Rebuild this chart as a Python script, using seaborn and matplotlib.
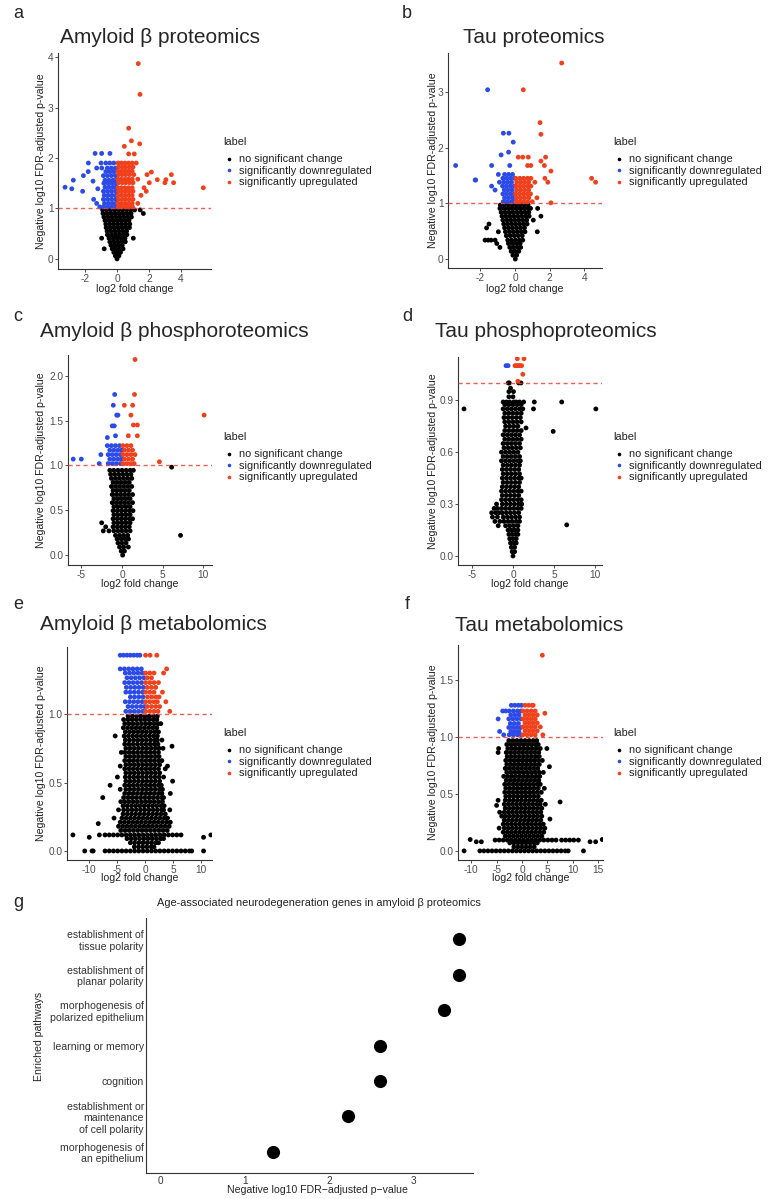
import pandas as pd
import matplotlib
matplotlib.use("Agg")
import matplotlib.pyplot as plt
from matplotlib.lines import Line2D
import seaborn as sns

sns.set_theme(style="ticks")
plt.rcParams["font.family"] = ["Liberation Sans", "DejaVu Sans"]
plt.rcParams["axes.unicode_minus"] = False

W, H = 769, 1199
LABELS = ["no significant change", "significantly downregulated", "significantly upregulated"]
PALETTE = ["#000000", "#2b4ae8", "#f0401c"]

# ---- data: each row is (y, [x values]) ----
# a. Amyloid beta proteomics
a_none = [
    (0.0, [0.0]), (0.06, [-0.1, 0.12]), (0.13, [-0.2, 0.02, 0.22]),
    (0.2, [-0.8, -0.3, -0.08, 0.15, 0.38]), (0.27, [-0.38, -0.13, 0.1, 0.33]),
    (0.34, [-0.45, -0.2, 0.05, 0.3, 0.52]), (0.41, [-0.96, -0.5, -0.25, 0.0, 0.25, 0.5, 1.02]),
    (0.48, [-0.6, -0.35, -0.1, 0.15, 0.4, 0.62]), (0.55, [-0.62, -0.38, -0.13, 0.12, 0.37, 0.6]),
    (0.62, [-0.68, -0.43, -0.18, 0.07, 0.32, 0.57, 0.78]), (0.69, [-0.7, -0.45, -0.2, 0.05, 0.3, 0.55, 0.8]),
    (0.76, [-0.75, -0.5, -0.25, 0.0, 0.25, 0.5, 0.75]),
    (0.83, [-0.82, -0.57, -0.32, -0.07, 0.18, 0.43, 0.68, 0.9]),
    (0.9, [-0.88, -0.62, -0.37, -0.12, 0.13, 0.38, 0.63, 0.88, 1.65]),
    (0.97, [-0.9, -0.65, -0.4, -0.15, 0.1, 0.35, 0.6, 0.85, 1.1, 1.45]),
]
a_down = [
    (1.03, [-1.08, -0.85, -0.6, -0.35, -0.1]), (1.1, [-1.27, -0.78, -0.53, -0.28, -0.05]),
    (1.18, [-1.46, -0.85, -0.6, -0.35, -0.1]), (1.26, [-0.8, -0.55, -0.3, -0.06]),
    (1.34, [-2.15, -0.85, -0.6, -0.35, -0.1]), (1.39, [-1.2, -2.83]), (1.42, [-3.25, -0.75, -0.5, -0.25, -0.05]),
    (1.5, [-0.82, -0.57, -0.32, -0.08]), (1.54, [-1.5]), (1.56, [-2.73, -0.75, -0.5, -0.25, -0.05]),
    (1.65, [-2.1, -0.85, -0.6, -0.35, -0.1]), (1.73, [-1.8, -0.7, -0.45, -0.2]),
    (1.8, [-1.27, -0.95, -0.6, -0.35, -0.1]), (1.9, [-1.79, -1.0, -0.7, -0.45, -0.2]),
    (2.09, [-1.37, -0.96, -0.44]),
]
a_up = [
    (1.03, [0.08, 0.3, 0.52, 0.75, 0.97]), (1.1, [0.05, 0.27, 0.5, 0.72, 0.95, 1.3]),
    (1.18, [0.1, 0.33, 0.55, 0.78, 1.0]), (1.26, [0.06, 0.28, 0.5, 0.73, 0.95, 1.5]),
    (1.34, [0.1, 0.32, 0.55, 0.77, 1.0, 1.83]), (1.41, [0.06, 0.28, 0.5, 0.72, 0.95, 1.69, 5.4]),
    (1.51, [0.1, 0.33, 0.55, 0.78, 1.0, 2.02, 3.0, 3.54]), (1.57, [2.52, 3.06]),
    (1.58, [0.05, 0.27, 0.5, 0.72, 0.95, 1.3]), (1.67, [0.1, 0.32, 0.55, 0.78, 1.05, 1.88, 3.4]),
    (1.72, [2.15]), (1.74, [0.06, 0.28, 0.5, 0.72, 0.95]), (1.82, [0.1, 0.33, 0.55, 0.78, 1.0]),
    (1.9, [0.06, 0.28, 0.5, 0.72, 0.95, 1.2]), (2.08, [0.73, 1.08]), (2.23, [0.46]),
    (2.28, [1.42]), (2.34, [0.9]), (2.59, [0.73]), (3.26, [1.44]), (3.87, [1.33]),
]

# b. Tau proteomics
b_none = [
    (0.0, [0.02]), (0.07, [-0.12, 0.1]), (0.14, [-0.22, 0.0, 0.22]),
    (0.21, [-0.87, -0.3, -0.08, 0.15, 0.33]), (0.28, [-1.05, -0.38, -0.15, 0.08, 0.3]),
    (0.34, [-1.73, -1.55, -1.38, -1.15, -0.42, -0.2, 0.03, 0.25, 0.45]),
    (0.42, [-0.5, -0.27, -0.04, 0.19, 0.42]),
    (0.49, [-0.96, -0.55, -0.32, -0.09, 0.14, 0.37, 0.58, 1.29]),
    (0.56, [-1.64, -0.6, -0.37, -0.14, 0.09, 0.32, 0.55]),
    (0.63, [-1.5, -0.65, -0.42, -0.19, 0.04, 0.27, 0.5, 0.7]),
    (0.7, [-0.7, -0.47, -0.24, -0.01, 0.22, 0.45, 0.68, 1.06]),
    (0.77, [-0.75, -0.52, -0.29, -0.06, 0.17, 0.4, 0.63, 0.82, 1.5]),
    (0.84, [-0.8, -0.57, -0.34, -0.11, 0.12, 0.35, 0.58, 0.8]),
    (0.91, [-0.87, -0.63, -0.4, -0.17, 0.06, 0.29, 0.52, 0.75, 0.9, 1.31]),
    (0.97, [-0.85, -0.62, -0.39, -0.16, 0.07, 0.3, 0.53, 0.76]),
]
b_down = [
    (1.03, [-0.68, -0.45, -0.22, -0.03]), (1.1, [-0.6, -0.37, -0.14]),
    (1.17, [-0.7, -0.48, -0.25, -0.04]), (1.24, [-1.15, -0.62, -0.4, -0.17]),
    (1.31, [-1.35, -0.72, -0.5, -0.27, -0.05]), (1.38, [-0.9, -0.65, -0.42, -0.2]),
    (1.42, [-2.27, -2.3]), (1.45, [-0.7, -0.48, -0.25, -0.03]), (1.52, [-0.96, -0.6, -0.37, -0.14]),
    (1.68, [-3.43, -1.35, -0.3]), (1.87, [-0.8]), (1.92, [-0.37]), (2.1, [-0.1]),
    (2.26, [-0.67, -0.35]), (3.04, [-1.58]),
]
b_up = [
    (1.01, [2.08]), (1.03, [0.05, 0.28, 0.5, 0.73, 1.0]), (1.1, [0.1, 0.33, 0.56, 0.8, 1.27]),
    (1.17, [0.03, 0.26, 0.49, 0.72, 0.9]), (1.24, [0.1, 0.33, 0.56, 0.79]),
    (1.31, [0.05, 0.28, 0.5, 0.73, 0.92]), (1.38, [0.1, 0.33, 0.56, 0.79, 1.15, 1.9, 4.66]),
    (1.45, [0.05, 0.28, 0.5, 0.73, 0.92, 1.73, 4.43]), (1.58, [2.08]), (1.68, [0.73, 0.92, 1.7]),
    (1.76, [1.5]), (1.83, [0.19, 0.45, 0.77, 1.77]), (2.24, [1.5]), (2.45, [1.45]),
    (3.04, [0.48]), (3.52, [2.7]),
]

# c. Amyloid beta phosphoproteomics
c_none = [
    (0.0, [0.08]), (0.045, [-0.1, 0.3]), (0.09, [-0.3, 0.2, 0.78]), (0.135, [-0.5, 0.0, 0.5]),
    (0.18, [-0.6, -0.1, 0.4, 0.8]), (0.22, [-0.8, -0.3, 0.2, 0.7, 7.2]),
    (0.27, [-2.3, -1.6, -1.0, -0.5, 0.0, 0.5, 1.0]), (0.315, [-2.0, -1.1, -0.6, -0.1, 0.4, 0.9]),
    (0.36, [-2.5, -1.0, -0.5, 0.0, 0.5, 1.0]), (0.405, [-1.1, -0.6, -0.1, 0.4, 0.9, 1.3]),
    (0.45, [-1.0, -0.5, 0.0, 0.5, 1.0]), (0.495, [-1.1, -0.6, -0.1, 0.4, 0.9, 1.35]),
    (0.54, [-1.0, -0.5, 0.0, 0.5, 1.0]), (0.585, [-1.2, -0.7, -0.2, 0.3, 0.8, 1.3]),
    (0.63, [-1.0, -0.5, 0.0, 0.5, 1.0]), (0.675, [-1.2, -0.7, -0.2, 0.3, 0.8, 1.3]),
    (0.72, [-1.1, -0.6, -0.1, 0.4, 0.9]), (0.765, [-1.3, -0.8, -0.3, 0.2, 0.7, 1.2]),
    (0.81, [-1.1, -0.6, -0.1, 0.4, 0.9]), (0.855, [-1.3, -0.8, -0.3, 0.2, 0.7, 1.2]),
    (0.9, [-1.4, -0.9, -0.4, 0.1, 0.6, 1.1]), (0.945, [-1.5, -1.0, -0.5, 0.0, 0.5, 1.0, 1.4]),
    (0.98, [6.1]),
]
c_down = [
    (1.02, [-2.8, -1.7, -1.2, -0.7, -0.2]), (1.07, [-6.0, -5.0, -1.5, -1.0, -0.5, -0.05]),
    (1.12, [-2.6, -1.7, -1.2, -0.7, -0.2]), (1.17, [-1.5, -1.0, -0.5, -0.05]),
    (1.22, [-1.8, -1.3, -0.8, -0.3]), (1.31, [-1.8]), (1.33, [-0.8]), (1.44, [-1.2, -0.95]),
    (1.56, [-0.65, -0.5]), (1.67, [-1.07]), (1.79, [-0.9]),
]
c_up = [
    (1.02, [0.1, 0.6, 1.1, 1.5]), (1.04, [4.6]), (1.07, [0.3, 0.8, 1.3]), (1.12, [0.1, 0.6, 1.1, 1.6]),
    (1.17, [0.3, 0.8, 1.3]), (1.22, [0.1, 0.6, 1.1]), (1.33, [0.78, 1.89]), (1.45, [1.4, 1.89]),
    (1.56, [1.1, 10.1]), (1.67, [0.29, 1.31]), (1.79, [1.54]), (2.18, [1.6]),
]

# d. Tau phosphoproteomics
d_none = [
    (0.0, [0.0]), (0.025, [-0.1, 0.2]), (0.05, [-0.2, 0.2]), (0.075, [-0.3, 0.1, 0.4]),
    (0.1, [-0.4, 0.0, 0.4]), (0.125, [-0.5, -0.1, 0.3, 0.6]), (0.15, [-0.6, -0.2, 0.2, 0.6]),
    (0.175, [-1.8, -0.9, -0.4, 0.1, 0.6]), (0.18, [6.55]),
    (0.2, [-2.2, -1.6, -1.1, -0.6, -0.1, 0.4, 0.8]),
    (0.225, [-2.5, -1.9, -1.2, -0.7, -0.2, 0.3, 0.8]),
    (0.25, [-2.6, -2.1, -1.7, -1.3, -0.8, -0.3, 0.2, 0.7]),
    (0.275, [-2.3, -1.9, -1.4, -0.9, -0.4, 0.1, 0.6, 1.0]),
    (0.3, [-2.0, -1.3, -0.8, -0.3, 0.2, 0.7, 1.06]), (0.325, [-1.4, -0.9, -0.4, 0.1, 0.6, 1.0]),
    (0.35, [-1.3, -0.8, -0.3, 0.2, 0.7]), (0.375, [-1.4, -0.9, -0.4, 0.1, 0.6, 1.0]),
    (0.4, [-1.3, -0.8, -0.3, 0.2, 0.7]), (0.425, [-1.2, -0.7, -0.2, 0.3, 0.8]),
    (0.45, [-1.3, -0.8, -0.3, 0.2, 0.7, 1.0]), (0.475, [-1.2, -0.7, -0.2, 0.3, 0.8]),
    (0.5, [-1.3, -0.8, -0.3, 0.2, 0.7]), (0.525, [-1.2, -0.7, -0.2, 0.3, 0.8]),
    (0.55, [-1.4, -0.9, -0.4, 0.1, 0.6, 0.9]), (0.575, [-1.2, -0.7, -0.2, 0.3, 0.8]),
    (0.6, [-1.4, -0.9, -0.4, 0.1, 0.6]), (0.625, [-1.1, -0.6, -0.1, 0.4, 0.9]),
    (0.65, [-1.2, -0.7, -0.2, 0.3, 0.8]), (0.675, [-1.0, -0.5, 0.0, 0.5, 1.0]),
    (0.7, [-1.2, -0.7, -0.2, 0.3, 0.8]), (0.72, [4.9]), (0.725, [-1.0, -0.5, 0.0, 0.5, 1.0]),
    (0.74, [1.59]), (0.75, [-0.9, -0.4, 0.1, 0.6]), (0.775, [-1.0, -0.5, 0.0, 0.5, 1.0]),
    (0.8, [-1.1, -0.6, -0.1, 0.4, 0.9]), (0.825, [-1.0, -0.5, 0.0, 0.5, 1.0]),
    (0.85, [-5.97, -1.2, -0.7, -0.2, 0.3, 0.8, 1.2, 2.5, 10.1]), (0.875, [-1.0, -0.5, 0.0, 0.5, 1.0]),
    (0.89, [-1.2, -0.8, -0.4, 0.1, 0.4, 0.8, 1.3, 2.6, 5.94]), (0.92, [-0.5, 0.0]),
    (0.95, [-0.5, 0.06]), (0.97, [-0.3]), (1.0, [-0.57, -0.45, 0.7, 0.98]),
]
d_down = [(1.1, [-0.85, -0.6])]
d_up = [(1.01, [0.6]), (1.05, [1.2]), (1.1, [0.25, 0.45, 0.65, 0.85, 1.05]), (1.14, [0.53, 1.34])]

# e. Amyloid beta metabolomics
e_none = [
    (0.0, [-10.7, -9.4, -9.2, -7.1, -6.35, -5.6, -4.85, -4.1, -3.35, -2.6, -1.85, -1.1, -0.35, 0.4,
           1.15, 1.9, 2.65, 3.4, 4.15, 4.9, 5.65, 6.4, 7.15, 7.9, 8.3, 10.4]),
    (0.03, [-1.9, -1.15, -0.4, 0.35, 1.1, 1.6]),
    (0.06, [-2.6, -1.85, -1.1, -0.35, 0.4, 1.15, 1.9, 2.4]),
    (0.09, [-3.2, -2.45, -1.7, -0.95, -0.2, 0.55, 1.3, 2.05, 2.8, 3.3]),
    (0.1, [-9.9, 10.4]),
    (0.117, [-12.8, -8.1, -7.1, -6.35, -5.6, -4.85, -4.1, -3.35, -2.6, -1.85, -1.1, -0.35, 0.4, 1.15,
             1.9, 2.65, 3.4, 4.15, 4.9, 5.65, 6.4, 11.7]),
    (0.15, [-4.3, -3.55, -2.8, -2.05, -1.3, -0.55, 0.2, 0.95, 1.7, 2.45, 3.2, 3.95]),
    (0.18, [-4.7, -3.95, -3.2, -2.45, -1.7, -0.95, -0.2, 0.55, 1.3, 2.05, 2.8, 3.55, 4.3]),
    (0.2, [-8.3]),
    (0.21, [-4.4, -3.65, -2.9, -2.15, -1.4, -0.65, 0.1, 0.85, 1.6, 2.35, 3.1, 3.85, 4.5]),
    (0.24, [-5.5, -4.1, -3.35, -2.6, -1.85, -1.1, -0.35, 0.4, 1.15, 1.9, 2.65, 3.4, 4.0]),
    (0.27, [-3.9, -3.15, -2.4, -1.65, -0.9, -0.15, 0.6, 1.35, 2.1, 2.85, 3.6]),
    (0.3, [-4.7, -3.8, -3.05, -2.3, -1.55, -0.8, -0.05, 0.7, 1.45, 2.2, 2.95, 3.3, 4.4]),
    (0.33, [-3.9, -3.15, -2.4, -1.65, -0.9, -0.15, 0.6, 1.35, 2.1, 2.85, 3.4]),
    (0.36, [-4.3, -3.6, -2.85, -2.1, -1.35, -0.6, 0.15, 0.9, 1.65, 2.4, 3.1]),
    (0.39, [-7.5, -3.8, -3.05, -2.3, -1.55, -0.8, -0.05, 0.7, 1.45, 2.2, 2.95, 3.3]),
    (0.42, [-3.6, -2.85, -2.1, -1.35, -0.6, 0.15, 0.9, 1.65, 2.4, 3.0, 4.5]),
    (0.45, [-4.4, -3.4, -2.65, -1.9, -1.15, -0.4, 0.35, 1.1, 1.85, 2.6, 3.1]),
    (0.48, [-6.2, -3.6, -2.85, -2.1, -1.35, -0.6, 0.15, 0.9, 1.65, 2.4, 2.9]),
    (0.51, [-3.4, -2.65, -1.9, -1.15, -0.4, 0.35, 1.1, 1.85, 2.6, 4.9]),
    (0.54, [-4.9, -3.5, -2.75, -2.0, -1.25, -0.5, 0.25, 1.0, 1.75, 2.5, 3.3]),
    (0.57, [-3.4, -2.65, -1.9, -1.15, -0.4, 0.35, 1.1, 1.85, 2.6]),
    (0.6, [-3.6, -2.85, -2.1, -1.35, -0.6, 0.15, 0.9, 1.65, 2.4, 3.6]),
    (0.62, [-4.4, 4.0]),
    (0.63, [-3.4, -2.65, -1.9, -1.15, -0.4, 0.35, 1.1, 1.85, 2.6]),
    (0.66, [-3.6, -2.85, -2.1, -1.35, -0.6, 0.15, 0.9, 1.65, 2.4, 3.0]),
    (0.69, [-3.4, -2.65, -1.9, -1.15, -0.4, 0.35, 1.1, 1.85, 2.5]),
    (0.72, [-4.2, -3.6, -2.85, -2.1, -1.35, -0.6, 0.15, 0.9, 1.65, 2.4]),
    (0.75, [-3.4, -2.65, -1.9, -1.15, -0.4, 0.35, 1.1, 1.85, 2.5, 3.2]),
    (0.765, [4.8]),
    (0.78, [-3.6, -2.85, -2.1, -1.35, -0.6, 0.15, 0.9, 1.65, 2.3]),
    (0.81, [-3.5, -2.75, -2.0, -1.25, -0.5, 0.25, 1.0, 1.75, 2.2, 3.0]),
    (0.84, [-5.3, -3.7, -2.95, -2.2, -1.45, -0.7, 0.05, 0.8, 1.55, 2.2]),
    (0.87, [-3.5, -2.75, -2.0, -1.25, -0.5, 0.25, 1.0, 1.75, 2.4]),
    (0.9, [-3.85, -3.1, -2.35, -1.6, -0.85, -0.1, 0.65, 1.4, 2.1]),
    (0.93, [-3.6, -2.85, -2.1, -1.35, -0.6, 0.15, 0.9, 1.65, 2.3, 2.8]),
    (0.96, [-3.8, -3.05, -2.3, -1.55, -0.8, -0.05, 0.7, 1.45, 2.1]),
    (0.985, [-3.0, -2.25, -1.5, -0.75, 0.0, 0.75, 1.5, 2.2]),
]
e_down = [
    (1.02, [-3.4, -2.65, -1.9, -1.15, -0.4]), (1.055, [-3.0, -2.25, -1.5, -0.75, -0.1]),
    (1.09, [-3.5, -2.75, -2.0, -1.25, -0.5]), (1.125, [-2.6, -1.85, -1.1, -0.35]),
    (1.16, [-3.4, -2.65, -1.9, -1.15, -0.4]), (1.195, [-3.3, -2.55, -1.8, -1.05, -0.3]),
    (1.23, [-3.6, -2.85, -2.1, -1.35, -0.6]), (1.265, [-3.2, -2.45, -1.7, -0.95, -0.2]),
    (1.3, [-3.5, -2.75, -2.0, -1.25, -0.5]), (1.33, [-4.4, -3.65, -2.9, -2.15, -1.4, -0.65]),
    (1.43, [-4.4, -3.8, -3.2, -2.6, -2.0, -1.4, -0.9]),
]
e_up = [
    (1.02, [0.1, 0.85, 1.6, 2.3, 4.4]), (1.055, [0.4, 1.15, 1.9, 2.6]),
    (1.09, [0.1, 0.85, 1.6, 2.2, 3.7]), (1.125, [0.45, 1.2, 1.95, 2.5]),
    (1.16, [0.1, 0.85, 1.6, 3.1]), (1.195, [0.4, 1.15, 1.9]), (1.23, [0.1, 0.85, 1.6, 2.4]),
    (1.265, [0.4, 1.15]), (1.3, [0.1, 0.85, 1.6, 3.3]), (1.33, [3.85]), (1.43, [0.1, 0.9, 2.1]),
]

# f. Tau metabolomics
f_none = [
    (0.0, [-11.4, -8.3, -7.5, -6.7, -5.9, -5.1, -4.3, -3.5, -2.7, -1.9, -1.1, -0.3, 0.5, 1.3, 2.1,
           2.9, 3.7, 4.5, 5.3, 6.1, 6.9, 7.7, 8.5, 9.1, 12.1]),
    (0.035, [-1.6, -0.8, 0.0, 0.8, 1.6, 2.4]),
    (0.07, [-2.4, -1.6, -0.8, 0.0, 0.8, 1.6, 2.4, 3.0]),
    (0.08, [-9.0, -8.0, 13.4, 14.5]),
    (0.095, [-5.3, -4.5, -3.7, -2.9, -2.1, -1.3, -0.5, 0.3, 1.1, 1.9, 2.7, 3.5, 4.3, 5.1, 5.9, 6.7,
             7.8, 8.6, 9.4, 10.2, 11.1]),
    (0.1, [-10.2, 15.8]),
    (0.13, [-3.3, -2.5, -1.7, -0.9, -0.1, 0.7, 1.5, 2.3, 3.1, 3.9]),
    (0.165, [-3.7, -2.9, -2.1, -1.3, -0.5, 0.3, 1.1, 1.9, 2.7, 3.5, 4.3]),
    (0.2, [-4.5, -3.5, -2.7, -1.9, -1.1, -0.3, 0.5, 1.3, 2.1, 2.9, 3.7, 4.5]),
    (0.235, [-3.7, -2.9, -2.1, -1.3, -0.5, 0.3, 1.1, 1.9, 2.7, 3.5, 4.2]),
    (0.27, [-3.5, -2.7, -1.9, -1.1, -0.3, 0.5, 1.3, 2.1, 2.9, 3.7]),
    (0.28, [5.5]),
    (0.305, [-4.0, -3.3, -2.5, -1.7, -0.9, -0.1, 0.7, 1.5, 2.3, 3.1, 3.9]),
    (0.34, [-4.4, -3.5, -2.7, -1.9, -1.1, -0.3, 0.5, 1.3, 2.1, 2.9, 3.7]),
    (0.375, [-3.3, -2.5, -1.7, -0.9, -0.1, 0.7, 1.5, 2.3, 3.1, 3.9]),
    (0.4, [-5.0]),
    (0.41, [-3.5, -2.7, -1.9, -1.1, -0.3, 0.5, 1.3, 2.1, 2.9, 3.6, 4.6]),
    (0.43, [7.5]),
    (0.445, [-4.7, -3.3, -2.5, -1.7, -0.9, -0.1, 0.7, 1.5, 2.3, 3.1, 3.8]),
    (0.48, [-3.2, -2.4, -1.6, -0.8, 0.0, 0.8, 1.6, 2.4, 3.2]),
    (0.515, [-3.4, -2.6, -1.8, -1.0, -0.2, 0.6, 1.4, 2.2, 3.0, 3.8]),
    (0.55, [-3.2, -2.4, -1.6, -0.8, 0.0, 0.8, 1.6, 2.4, 3.2, 4.4]),
    (0.585, [-3.4, -2.6, -1.8, -1.0, -0.2, 0.6, 1.4, 2.2, 3.0, 3.6]),
    (0.62, [-3.1, -2.3, -1.5, -0.7, 0.1, 0.9, 1.7, 2.5, 3.3]),
    (0.655, [-3.6, -2.8, -2.0, -1.2, -0.4, 0.4, 1.2, 2.0, 2.8, 3.5]),
    (0.69, [-3.0, -2.2, -1.4, -0.6, 0.2, 1.0, 1.8, 2.6, 3.4, 4.2]),
    (0.725, [-3.3, -2.5, -1.7, -0.9, -0.1, 0.7, 1.5, 2.3, 3.1]),
    (0.74, [5.4]),
    (0.76, [-3.0, -2.2, -1.4, -0.6, 0.2, 1.0, 1.8, 2.6, 3.4]),
    (0.795, [-3.2, -2.4, -1.6, -0.8, 0.0, 0.8, 1.6, 2.4, 3.2, 4.0]),
    (0.83, [-2.9, -2.1, -1.3, -0.5, 0.3, 1.1, 1.9, 2.7, 3.4]),
    (0.865, [-4.7, -3.1, -2.3, -1.5, -0.7, 0.1, 0.9, 1.7, 2.5, 3.3]),
    (0.9, [-4.6, -2.8, -2.0, -1.2, -0.4, 0.4, 1.2, 2.0, 2.8, 3.6, 4.9]),
    (0.935, [-3.0, -2.2, -1.4, -0.6, 0.2, 1.0, 1.8, 2.6, 3.2]),
    (0.97, [-2.6, -1.8, -1.0, -0.2, 0.6, 1.4, 2.2, 2.9]),
]
f_down = [
    (1.02, [-3.6, -2.5, -1.7, -0.9, -0.2]), (1.05, [-4.4, -2.2, -1.4, -0.6]),
    (1.085, [-2.6, -1.8, -1.0, -0.2]), (1.12, [-2.3, -1.5, -0.7]),
    (1.16, [-4.7, -2.6, -1.8, -1.0, -0.2]), (1.195, [-2.2, -1.4, -0.6]),
    (1.23, [-3.8, -3.2, -2.5, -1.7, -0.9, -0.2]), (1.28, [-2.1, -1.4, -0.7, -0.1]),
]
f_up = [
    (1.02, [0.2, 1.0, 1.8, 2.6, 4.1]), (1.055, [0.6, 1.4, 2.2, 3.0]),
    (1.09, [0.2, 1.0, 1.8, 2.6, 3.6]), (1.125, [0.6, 1.4, 2.2, 3.0]),
    (1.16, [0.2, 1.0, 1.8, 2.6]), (1.195, [0.6, 1.4, 2.2, 3.0]), (1.21, [4.5]),
    (1.23, [0.2, 1.0, 1.8, 2.6]), (1.28, [0.6, 1.3, 2.0, 2.2]), (1.72, [4.0]),
]

# g. enrichment
pathways = [
    "establishment of\ntissue polarity",
    "establishment of\nplanar polarity",
    "morphogenesis of\npolarized epithelium",
    "learning or memory",
    "cognition",
    "establishment or\nmaintenance\nof cell polarity",
    "morphogenesis of\nan epithelium",
]
neg_log10_fdr = [3.54, 3.54, 3.36, 2.60, 2.60, 2.22, 1.33]


def expand(rows, label):
    xs, ys = [], []
    for y, row in rows:
        xs += row
        ys += [y] * len(row)
    return pd.DataFrame({"log2FC": xs, "nlog10": ys, "label": label})


def px_axes(fig, l, t, r, b):
    return fig.add_axes([l / W, 1 - b / H, (r - l) / W, (b - t) / H])


def ftext(fig, x, y, s, **kw):
    fig.text(x / W, 1 - y / H, s, **kw)


def style_axes(ax):
    sns.despine(ax=ax)
    for side in ("left", "bottom"):
        ax.spines[side].set_color("#333333")
        ax.spines[side].set_linewidth(0.8)


panels = [
    dict(letter="a", title="Amyloid β proteomics", data=(a_none, a_down, a_up),
         box=(58, 53, 211, 269), xlim=(-3.69, 5.88), ylim=(-0.2, 4.08),
         xticks=[-2, 0, 2, 4], yticks=[0, 1, 2, 3, 4], yfmt="{:.0f}",
         letter_xy=(13, 18.3), title_xy=(60, 42.7), ylab_x=41.3, xlab_y=289, leg=(223, 142)),
    dict(letter="b", title="Tau proteomics", data=(b_none, b_down, b_up),
         box=(448, 53, 602, 268), xlim=(-3.87, 5.03), ylim=(-0.16, 3.70),
         xticks=[-2, 0, 2, 4], yticks=[0, 1, 2, 3], yfmt="{:.0f}",
         letter_xy=(402, 18.3), title_xy=(463, 43.3), ylab_x=432.5, xlab_y=289, leg=(613, 142)),
    dict(letter="c", title="Amyloid β phosphoroteomics", data=(c_none, c_down, c_up),
         box=(68, 355, 212, 565), xlim=(-6.64, 11.07), ylim=(-0.11, 2.23),
         xticks=[-5, 0, 5, 10], yticks=[0, 0.5, 1.0, 1.5, 2.0], yfmt="{:.1f}",
         letter_xy=(13, 320.7), title_xy=(40, 337.3), ylab_x=41.3, xlab_y=584, leg=(223, 437)),
    dict(letter="d", title="Tau phosphoproteomics", data=(d_none, d_down, d_up),
         box=(458, 357, 602, 565), xlim=(-6.7, 10.85), ylim=(-0.052, 1.15),
         xticks=[-5, 0, 5, 10], yticks=[0, 0.3, 0.6, 0.9], yfmt="{:.1f}",
         letter_xy=(402, 320.7), title_xy=(435, 337), ylab_x=432.5, xlab_y=584, leg=(613, 437)),
    dict(letter="e", title="Amyloid β metabolomics", data=(e_none, e_down, e_up),
         box=(67, 647, 212, 860), xlim=(-13.85, 11.9), ylim=(-0.066, 1.49),
         xticks=[-10, -5, 0, 5, 10], yticks=[0, 0.5, 1.0], yfmt="{:.1f}",
         letter_xy=(13, 609.3), title_xy=(40, 630), ylab_x=41.3, xlab_y=878, leg=(223, 733)),
    dict(letter="f", title="Tau metabolomics", data=(f_none, f_down, f_up),
         box=(458, 645, 603, 860), xlim=(-12.6, 15.95), ylim=(-0.08, 1.81),
         xticks=[-10, -5, 0, 5, 10, 15], yticks=[0, 0.5, 1.0, 1.5], yfmt="{:.1f}",
         letter_xy=(405, 609.3), title_xy=(455, 630.7), ylab_x=432.5, xlab_y=878, leg=(613, 733)),
]

fig = plt.figure(figsize=(W / 100, H / 100), dpi=100)

for p in panels:
    l, t, r, b = p["box"]
    ax = px_axes(fig, l, t, r, b)
    df = pd.concat([expand(rows, lab) for rows, lab in zip(p["data"], LABELS)], ignore_index=True)
    sns.scatterplot(data=df, x="log2FC", y="nlog10", hue="label", hue_order=LABELS,
                    palette=PALETTE, s=12, linewidth=0, legend=False, ax=ax, zorder=2)
    ax.axhline(1, color="#e4473c", lw=1.0, alpha=0.85, ls=(0, (3, 2.4)), zorder=3)
    ax.set_xlim(*p["xlim"])
    ax.set_ylim(*p["ylim"])
    ax.set_xticks(p["xticks"])
    ax.set_xticklabels([str(v) for v in p["xticks"]])
    ax.set_yticks(p["yticks"])
    ax.set_yticklabels([p["yfmt"].format(v) for v in p["yticks"]])
    ax.tick_params(axis="both", length=2.5, width=0.6, color="#333333", pad=0.8,
                   labelsize=7.3, labelcolor="#4d4d4d")
    style_axes(ax)
    ax.set_xlabel("log2 fold change", fontsize=7.6, color="#222222", va="center")
    ax.set_ylabel("Negative log10 FDR-adjusted p-value", fontsize=7.6, color="#222222", va="center")
    ax.xaxis.set_label_coords(0.5, (b - p["xlab_y"]) / (b - t))
    ax.yaxis.set_label_coords((p["ylab_x"] - l) / (r - l), 0.5)

    ftext(fig, *p["letter_xy"], p["letter"], fontsize=13, va="baseline", ha="left")
    ftext(fig, *p["title_xy"], p["title"], fontsize=15, va="baseline", ha="left")

    lx, ly = p["leg"]
    ftext(fig, lx, ly, "label", fontsize=7.9, va="center", ha="left", color="#222222")
    handles = [Line2D([], [], marker="o", ls="", color=c, markersize=2.6, markeredgewidth=0)
               for c in PALETTE]
    ax.legend(handles, LABELS, loc="upper left", bbox_to_anchor=((lx + 0.5) / W, 1 - (ly + 12.4) / H),
              bbox_transform=fig.transFigure, frameon=False, fontsize=7.9, labelspacing=0.14,
              handlelength=1.0, handletextpad=0.41, borderpad=0, borderaxespad=0,
              labelcolor="#222222")

# panel g
gl, gt, gr, gb = 146, 918, 473, 1173
axg = px_axes(fig, gl, gt, gr, gb)
gdf = pd.DataFrame({"pathway": pathways, "value": neg_log10_fdr})
sns.scatterplot(data=gdf, x="value", y="pathway", color="black", s=90, linewidth=0, ax=axg)
axg.set_xlim(-0.175, 3.71)
axg.set_ylim(len(pathways) - 0.4, -0.6)
axg.set_xticks([0, 1, 2, 3])
axg.tick_params(axis="y", length=0, pad=1.5, labelsize=7.6, labelcolor="#333333")
axg.tick_params(axis="x", length=0, pad=2.2, labelsize=7.2, labelcolor="#333333")
style_axes(axg)
axg.set_xlabel("Negative log10 FDR\u2212adjusted p\u2212value", fontsize=7.6, va="center")
axg.set_ylabel("Enriched pathways", fontsize=7.6, va="center")
axg.xaxis.set_label_coords((317 - gl) / (gr - gl), (gb - 1190) / (gb - gt))
axg.yaxis.set_label_coords((39 - gl) / (gr - gl), (gb - 1036) / (gb - gt))
ftext(fig, 157, 903, "Age-associated neurodegeneration genes in amyloid β proteomics",
      fontsize=7.9, va="center", ha="left", color="#222222")
ftext(fig, 13, 907, "g", fontsize=13, va="baseline", ha="left")

fig.savefig("out.png", dpi=100)
